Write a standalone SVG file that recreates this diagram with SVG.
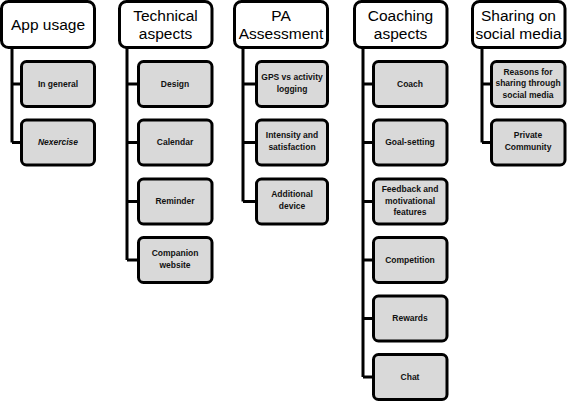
<svg xmlns="http://www.w3.org/2000/svg" width="567" height="403" viewBox="0 0 567 403">
<style>
.hd{fill:#fff;stroke:#000;stroke-width:3}
.ch{fill:#d9d9d9;stroke:#000;stroke-width:3}
.ht{font-family:"Liberation Sans",Arial,sans-serif;font-size:15.5px;fill:#000;text-anchor:middle}
.ct{font-family:"Liberation Sans",Arial,sans-serif;font-size:8.5px;font-weight:bold;fill:#111;text-anchor:middle}
.cn{fill:none;stroke:#000;stroke-width:3}
</style>
<rect width="567" height="403" fill="#fff"/>
<g id="connectors">
<path class="cn" d="M12 48V142.5M12 84H20M12 142.5H20"/>
<path class="cn" d="M127 48V260M127 84H137M127 142.5H137M127 201.5H137M127 260H137"/>
<path class="cn" d="M243 48V201.5M243 84H255M243 142.5H255M243 201.5H255"/>
<path class="cn" d="M363 48V377M363 84H372M363 142.5H372M363 201.5H372M363 260H372M363 318.5H372M363 377H372"/>
<path class="cn" d="M482 48V142.5M482 84H490M482 142.5H490"/>
</g>
<g id="app-usage"><rect class="hd" x="1.5" y="1.5" width="93" height="46" rx="7"/><text class="ht" x="48" y="30">App usage</text></g>
<g id="technical-aspects"><rect class="hd" x="119.5" y="1.5" width="92.5" height="46" rx="7"/><text class="ht" x="165.5" y="21">Technical</text><text class="ht" x="165.5" y="39">aspects</text></g>
<g id="pa-assessment"><rect class="hd" x="234.5" y="1.5" width="93" height="46" rx="7"/><text class="ht" x="281" y="21">PA</text><text class="ht" x="281" y="39">Assessment</text></g>
<g id="coaching-aspects"><rect class="hd" x="354.5" y="1.5" width="92.5" height="46" rx="7"/><text class="ht" x="400.5" y="21">Coaching</text><text class="ht" x="400.5" y="39">aspects</text></g>
<g id="sharing"><rect class="hd" x="472.5" y="1.5" width="92.5" height="46" rx="7"/><text class="ht" x="518.5" y="21">Sharing on</text><text class="ht" x="518.5" y="39">social media</text></g>

<g id="in-general"><rect class="ch" x="21.5" y="61.5" width="73" height="45" rx="5"/><text class="ct" x="58" y="86.5">In general</text></g>
<g id="nexercise"><rect class="ch" x="21.5" y="120" width="73" height="45" rx="5"/><text class="ct" x="58" y="145" font-style="italic">Nexercise</text></g>

<g id="design"><rect class="ch" x="138.5" y="61.5" width="73.5" height="45" rx="5"/><text class="ct" x="175" y="86.5">Design</text></g>
<g id="calendar"><rect class="ch" x="138.5" y="120" width="73.5" height="45" rx="5"/><text class="ct" x="175" y="145">Calendar</text></g>
<g id="reminder"><rect class="ch" x="138.5" y="179" width="73.5" height="45" rx="5"/><text class="ct" x="175" y="204">Reminder</text></g>
<g id="companion"><rect class="ch" x="138.5" y="237.5" width="73.5" height="45" rx="5"/><text class="ct" x="175" y="255.5">Companion</text><text class="ct" x="175" y="267.5">website</text></g>

<g id="gps"><rect class="ch" x="256.5" y="61.5" width="71" height="45" rx="5"/><text class="ct" x="292" y="79.5">GPS vs activity</text><text class="ct" x="292" y="91.5">logging</text></g>
<g id="intensity"><rect class="ch" x="256.5" y="120" width="71" height="45" rx="5"/><text class="ct" x="292" y="138">Intensity and</text><text class="ct" x="292" y="150">satisfaction</text></g>
<g id="additional"><rect class="ch" x="256.5" y="179" width="71" height="45" rx="5"/><text class="ct" x="292" y="197">Additional</text><text class="ct" x="292" y="209">device</text></g>

<g id="coach"><rect class="ch" x="373.5" y="61.5" width="73.5" height="45" rx="5"/><text class="ct" x="410" y="86.5">Coach</text></g>
<g id="goal"><rect class="ch" x="373.5" y="120" width="73.5" height="45" rx="5"/><text class="ct" x="410" y="145">Goal-setting</text></g>
<g id="feedback"><rect class="ch" x="373.5" y="179" width="73.5" height="45" rx="5"/><text class="ct" x="410" y="192">Feedback and</text><text class="ct" x="410" y="203.5">motivational</text><text class="ct" x="410" y="215">features</text></g>
<g id="competition"><rect class="ch" x="373.5" y="237.5" width="73.5" height="45" rx="5"/><text class="ct" x="410" y="262.5">Competition</text></g>
<g id="rewards"><rect class="ch" x="373.5" y="296" width="73.5" height="45" rx="5"/><text class="ct" x="410" y="321">Rewards</text></g>
<g id="chat"><rect class="ch" x="373.5" y="354.5" width="73.5" height="45" rx="5"/><text class="ct" x="410" y="379.5">Chat</text></g>

<g id="reasons"><rect class="ch" x="491.5" y="61.5" width="73.5" height="45" rx="5"/><text class="ct" x="528" y="74.5">Reasons for</text><text class="ct" x="528" y="86">sharing through</text><text class="ct" x="528" y="97.5">social media</text></g>
<g id="private"><rect class="ch" x="491.5" y="120" width="73.5" height="45" rx="5"/><text class="ct" x="528" y="138">Private</text><text class="ct" x="528" y="150">Community</text></g>
</svg>
